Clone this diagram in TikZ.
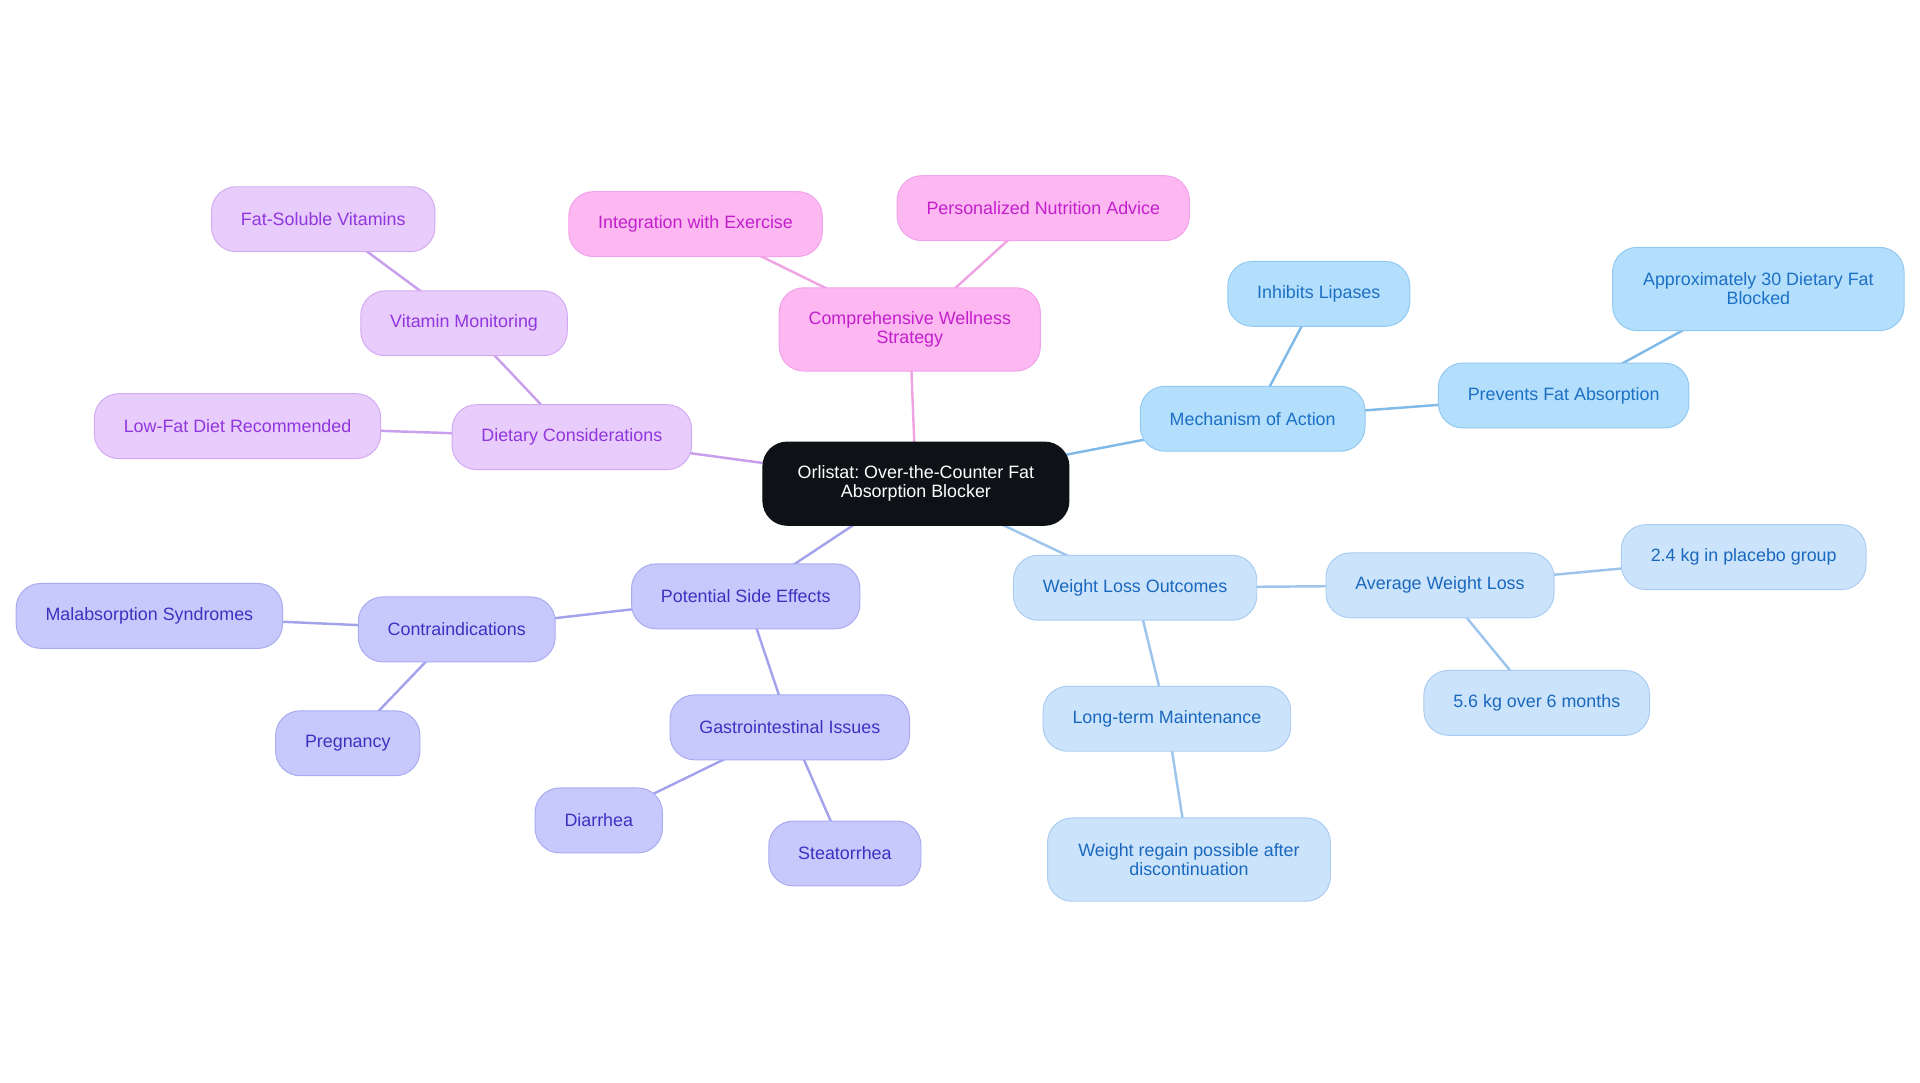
\documentclass[tikz,border=0pt]{standalone}
\usepackage{fontspec}
\setmainfont{Liberation Sans}
\frenchspacing
\usetikzlibrary{backgrounds}
\definecolor{pinkF}{HTML}{FDB7F1}\definecolor{pinkD}{HTML}{F2A2EA}\definecolor{pinkT}{HTML}{C21FCC}\definecolor{pinkE}{HTML}{F0A3E2}
\definecolor{purF}{HTML}{E8CCFB}\definecolor{purD}{HTML}{D3AAF2}\definecolor{purT}{HTML}{9036DD}\definecolor{purE}{HTML}{C99EEA}
\definecolor{bluF}{HTML}{B3DEFC}\definecolor{bluD}{HTML}{92C9F2}\definecolor{bluT}{HTML}{1C70C4}\definecolor{bluE}{HTML}{7FB9E8}
\definecolor{lblF}{HTML}{CCE4FB}\definecolor{lblD}{HTML}{A9CCF0}\definecolor{lblT}{HTML}{1A68BE}\definecolor{lblE}{HTML}{9CC4EC}
\definecolor{indF}{HTML}{C7C9FC}\definecolor{indD}{HTML}{A9ABF0}\definecolor{indT}{HTML}{3B32C0}\definecolor{indE}{HTML}{A2A3EC}
\definecolor{ctrF}{HTML}{0E1217}
\tikzset{
  mm/.style={rectangle, rounded corners=20pt, draw, line width=0.8pt, inner xsep=24pt, inner ysep=0pt,
    minimum height=53pt, align=center, font=\fontsize{14.6}{15.5}\selectfont},
  two/.style={minimum height=68pt},
  pinkN/.style={mm, fill=pinkF, draw=pinkD, text=pinkT},
  purN/.style={mm, fill=purF, draw=purD, text=purT},
  bluN/.style={mm, fill=bluF, draw=bluD, text=bluT},
  lblN/.style={mm, fill=lblF, draw=lblD, text=lblT},
  indN/.style={mm, fill=indF, draw=indD, text=indT},
  ctrN/.style={mm, fill=ctrF, draw=ctrF, text=white},
  edge/.style={line width=2pt}
}
\begin{document}
\begin{tikzpicture}[x=1pt,y=-1pt]
\useasboundingbox (0,0) rectangle (1568,884.4);
\node[ctrN,two,minimum width=250pt] (c) at (748,395) {Orlistat: Over-the-Counter Fat\\Absorption Blocker};
% pink
\node[pinkN,two,minimum width=212pt] (cws) at (743,269) {Comprehensive Wellness\\Strategy};
\node[pinkN] (ie) at (568,183) {Integration with Exercise};
\node[pinkN] (pna) at (852,170) {Personalized Nutrition Advice};
% purple
\node[purN] (dc) at (467,357) {Dietary Considerations};
\node[purN] (vm) at (379,264) {Vitamin Monitoring};
\node[purN] (fsv) at (264,179) {Fat-Soluble Vitamins};
\node[purN] (lfd) at (194,348) {Low-Fat Diet Recommended};
% blue
\node[bluN] (moa) at (1023,342) {Mechanism of Action};
\node[bluN] (il) at (1077,240) {Inhibits Lipases};
\node[bluN] (pfa) at (1277,323) {Prevents Fat Absorption};
\node[bluN,two,minimum width=238pt] (a30) at (1436,236) {Approximately 30 Dietary Fat\\Blocked};
% light blue
\node[lblN] (wlo) at (927,480) {Weight Loss Outcomes};
\node[lblN] (awl) at (1176,478) {Average Weight Loss};
\node[lblN] (p24) at (1424,455) {2.4 kg in placebo group};
\node[lblN] (k56) at (1255,574) {5.6 kg over 6 months};
\node[lblN] (ltm) at (953,587) {Long-term Maintenance};
\node[lblN,two,minimum width=231pt] (wr) at (971,702) {Weight regain possible after\\discontinuation};
% indigo
\node[indN] (pse) at (609,487) {Potential Side Effects};
\node[indN] (ci) at (373,514) {Contraindications};
\node[indN] (ms) at (122,503) {Malabsorption Syndromes};
\node[indN] (pr) at (284,607) {Pregnancy};
\node[indN] (gi) at (645,594) {Gastrointestinal Issues};
\node[indN] (di) at (489,670) {Diarrhea};
\node[indN] (st) at (690,697) {Steatorrhea};
\begin{scope}[on background layer]
\draw[edge,pinkE] (c.center) -- (cws.center) (cws.center) -- (ie.center) (cws.center) -- (pna.center);
\draw[edge,purE] (c.center) -- (dc.center) (dc.center) -- (vm.center) (vm.center) -- (fsv.center) (dc.center) -- (lfd.center);
\draw[edge,bluE] (c.center) -- (moa.center) (moa.center) -- (il.center) (moa.center) -- (pfa.center) (pfa.center) -- (a30.center);
\draw[edge,lblE] (c.center) -- (wlo.center) (wlo.center) -- (awl.center) (awl.center) -- (p24.center) (awl.center) -- (k56.center) (wlo.center) -- (ltm.center) (ltm.center) -- (wr.center);
\draw[edge,indE] (c.center) -- (pse.center) (pse.center) -- (ci.center) (ci.center) -- (ms.center) (ci.center) -- (pr.center) (pse.center) -- (gi.center) (gi.center) -- (di.center) (gi.center) -- (st.center);
\end{scope}
\end{tikzpicture}
\end{document}
